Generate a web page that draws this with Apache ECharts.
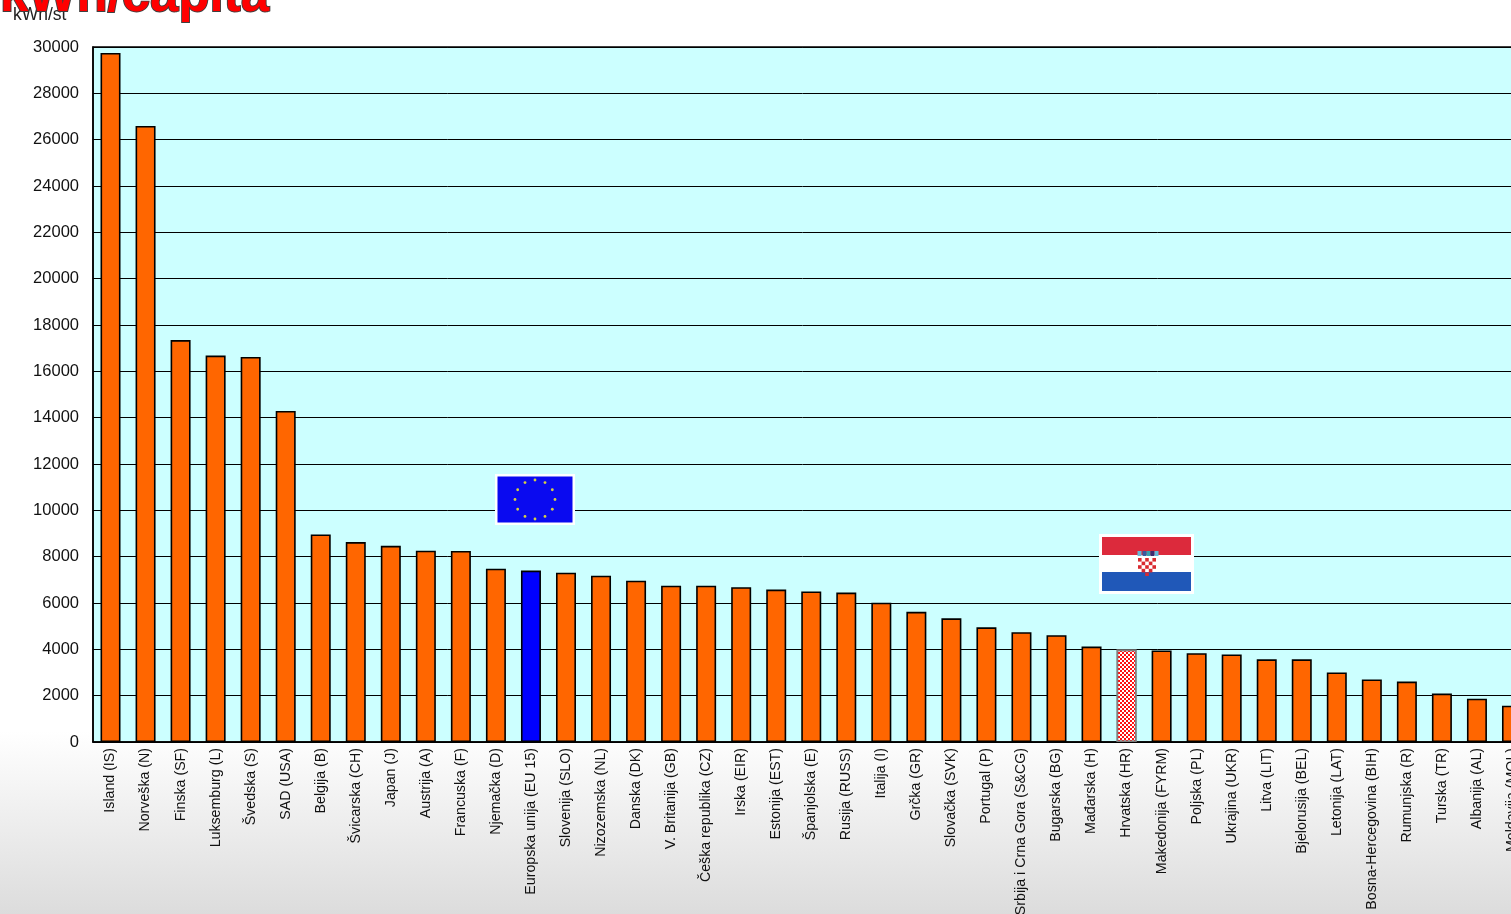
<!DOCTYPE html>
<html><head><meta charset="utf-8">
<style>html,body{margin:0;padding:0;width:1511px;height:914px;overflow:hidden;background:#fff}#c{width:1511px;height:914px}</style>
<script src="https://cdn.jsdelivr.net/npm/echarts@6/dist/echarts.min.js"></script></head>
<body><div id="c"></div>
<script>
const categories = ["Island (IS)","Norveška (N)","Finska (SF)","Luksemburg (L)","Švedska (S)","SAD (USA)","Belgija (B)","Švicarska (CH)","Japan (J)","Austrija (A)","Francuska (F)","Njemačka (D)","Europska unija (EU 15)","Slovenija (SLO)","Nizozemska (NL)","Danska (DK)","V. Britanija (GB)","Češka republika (CZ)","Irska (EIR)","Estonija (EST)","Španjolska (E)","Rusija (RUSS)","Italija (I)","Grčka (GR)","Slovačka (SVK)","Portugal (P)","Srbija i Crna Gora (S&CG)","Bugarska (BG)","Mađarska (H)","Hrvatska (HR)","Makedonija (FYRM)","Poljska (PL)","Ukrajina (UKR)","Litva (LIT)","Bjelorusija (BEL)","Letonija (LAT)","Bosna-Hercegovina (BIH)","Rumunjska (R)","Turska (TR)","Albanija (AL)","Moldavija (MOL)"];
const values = [29740,26590,17350,16680,16620,14290,8960,8630,8470,8260,8245,7480,7400,7310,7180,6960,6750,6750,6680,6580,6500,6450,6010,5620,5340,4950,4740,4610,4120,3990,3950,3830,3780,3570,3570,3000,2700,2610,2090,1870,1570];
const euName = "Europska unija (EU 15)";
const hrName = "Hrvatska (HR)";
const titleText = "kWh/capita";
const unitText = "kWh/st";
const euStars = 12;

const ORANGE = '#ff6600';
const seriesData = categories.map((c,i)=>{
  if(c===euName) return {value:values[i],itemStyle:{color:'#0000ff'}};
  if(c===hrName) return {value:values[i],itemStyle:{color:'#ffffff',borderColor:'#808080',decal:{symbol:'rect',symbolSize:1,color:'#ff1010',dashArrayX:[[2,2],[0,2,2,0]],dashArrayY:[2,0],rotation:0}}};
  return values[i];
});

// EU flag
const eu = {x:495,y:474,w:80,h:51};
const g = [
  {type:'rect',z:5,shape:{x:eu.x,y:eu.y,width:eu.w,height:eu.h},style:{fill:'#fff'}},
  {type:'rect',z:6,shape:{x:eu.x+2.5,y:eu.y+2.5,width:eu.w-5,height:eu.h-5},style:{fill:'#0a0af0'}}
];
for(let i=0;i<euStars;i++){
  const a=i/euStars*2*Math.PI;
  g.push({type:'circle',z:7,shape:{cx:535+20*Math.sin(a),cy:499.5-19.5*Math.cos(a),r:1.4},style:{fill:'#d8d040'}});
}
// HR flag
const hr={x:1099,y:534,w:95,h:60};
g.push({type:'rect',z:5,shape:{x:hr.x,y:hr.y,width:hr.w,height:hr.h},style:{fill:'#fff'}});
g.push({type:'rect',z:6,shape:{x:hr.x+3,y:hr.y+3,width:hr.w-6,height:18},style:{fill:'#dc2a3c'}});
g.push({type:'rect',z:6,shape:{x:hr.x+3,y:hr.y+38,width:hr.w-6,height:19},style:{fill:'#2058b8'}});
for(let r=0;r<5;r++)for(let c=0;c<5;c++){
  if((r+c)%2===0 && !(r===4&&(c===0||c===4)))
    g.push({type:'rect',z:7,shape:{x:1138+c*3.6,y:558+r*3.6,width:3.6,height:3.6},style:{fill:'#d92a30'}});
}
[['#66b8d8',1138],['#3a5aa0',1143],['#3aa0b0',1147],['#402a70',1151],['#66b8d8',1155]].forEach(([col,x])=>{
  g.push({type:'rect',z:7,shape:{x:x-0.5,y:551,width:4,height:5},style:{fill:col}});
});
// Title & unit
g.push({type:'text',z:9,left:13,top:6,style:{text:unitText,fill:'#222',font:'17.5px "Liberation Sans"'}});
g.push({type:'text',z:10,left:-1,top:-29,style:{text:titleText,fill:'#ff0000',font:'bold 51px "Liberation Sans"',stroke:'#404040',lineWidth:1.8,shadowColor:'#555',shadowBlur:0,shadowOffsetX:1,shadowOffsetY:1}});

const chart = echarts.init(document.getElementById('c'),null,{renderer:'canvas'});
chart.setOption({
  animation:false,
  backgroundColor:{type:'linear',x:0,y:0,x2:0,y2:1,colorStops:[{offset:0,color:'#ffffff'},{offset:0.80,color:'#ffffff'},{offset:1,color:'#dcdcdc'}]},
  grid:{left:93,top:47,width:1436.5,height:695,show:true,backgroundColor:'#ccffff',borderColor:'#000',borderWidth:1.5,containLabel:false,outerBoundsMode:'none'},
  xAxis:{type:'category',data:categories,boundaryGap:true,
    axisLine:{show:true,lineStyle:{color:'#000',width:1.5}},axisTick:{show:false},
    axisLabel:{interval:0,rotate:90,fontFamily:'Liberation Sans',fontSize:14.2,color:'#111',margin:6}},
  yAxis:{type:'value',min:0,max:30000,interval:2000,
    axisLine:{show:true,lineStyle:{color:'#000',width:1.5}},axisTick:{show:false},
    splitLine:{show:true,lineStyle:{color:'#000',width:1}},
    axisLabel:{fontFamily:'Liberation Sans',fontSize:16.5,color:'#111',margin:14,padding:[2,0,0,0],formatter:v=>String(v)}},
  series:[{type:'bar',data:seriesData,barWidth:20,itemStyle:{color:ORANGE,borderColor:'#000',borderWidth:1.6}}],
  graphic:g
});
</script></body></html>
